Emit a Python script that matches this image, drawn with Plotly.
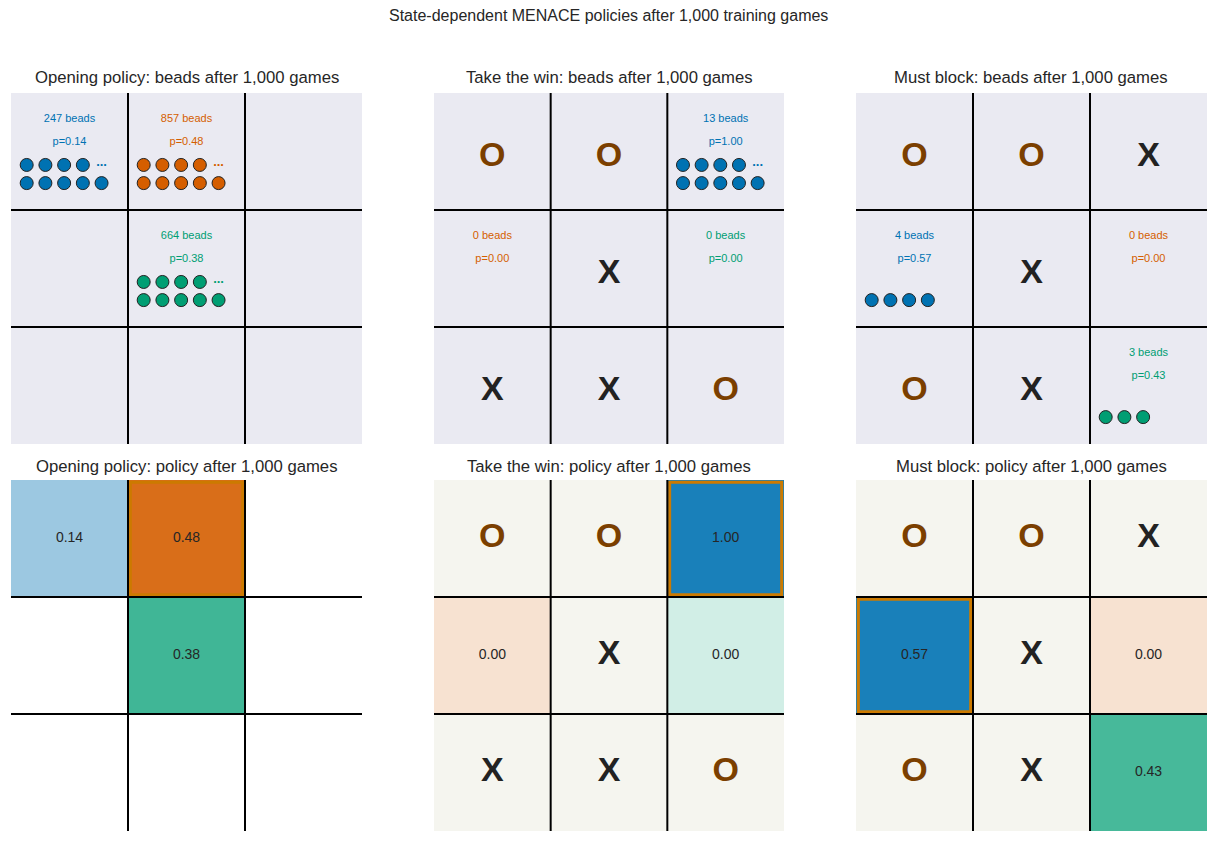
import plotly.graph_objects as go

FONT = "Liberation Sans, Arial, sans-serif"
OUT_HTML = "out.html"

SUPTITLE = "State-dependent MENACE policies after 1,000 training games"
STATE_NAMES = ["Opening policy", "Take the win", "Must block"]

# board contents, row by row ("" = empty square)
OPENING_BOARD = ["", "", "", "", "", "", "", "", ""]
WIN_BOARD = ["O", "O", "", "", "X", "", "X", "X", "O"]
BLOCK_BOARD = ["O", "O", "X", "", "X", "", "O", "X", ""]

# squares that hold a bead colour, bead counts and the move probabilities
OPENING_MOVES = [0, 1, 4]
OPENING_BEADS = [247, 857, 664]
OPENING_PROBS = [0.14, 0.48, 0.38]

WIN_MOVES = [2, 3, 5]
WIN_BEADS = [13, 0, 0]
WIN_PROBS = [1.00, 0.00, 0.00]

BLOCK_MOVES = [3, 5, 8]
BLOCK_BEADS = [4, 0, 3]
BLOCK_PROBS = [0.57, 0.00, 0.43]

MOVE_COLORS = ["#0072B2", "#D55E00", "#009E73"]
BEADS_BG = "#EAEAF2"
TAKEN_BG = "#F5F5EF"
HIGHLIGHT = "#CC7A00"
O_COLOR = "#7B3F00"
X_COLOR = "#222222"
TEXT = "#262626"

# the page body has an 8px margin, so the figure is laid out in page pixels minus 8
PAD = 8
W, H = 1217 - 2 * PAD, 841 - 2 * PAD


def px_x(p):
    return (p - PAD) / W


def px_y(p):
    return 1 - (p - PAD) / H


X_DOMAINS = [(px_x(11), px_x(362)), (px_x(434), px_x(784)), (px_x(856), px_x(1207))]
Y_DOMAINS = [(px_y(444), px_y(93)), (px_y(831), px_y(480))]

STATES = [
    (OPENING_BOARD, OPENING_MOVES, OPENING_BEADS, OPENING_PROBS),
    (WIN_BOARD, WIN_MOVES, WIN_BEADS, WIN_PROBS),
    (BLOCK_BOARD, BLOCK_MOVES, BLOCK_BEADS, BLOCK_PROBS),
]


def rgba(hex_color, alpha):
    h = hex_color.lstrip("#")
    r, g, b = int(h[0:2], 16), int(h[2:4], 16), int(h[4:6], 16)
    return f"rgba({r},{g},{b},{alpha:.3f})"


def grid_shapes(ax):
    xr, yr = f"x{ax}", f"y{ax}"
    shapes = []
    for k in (1, 2):
        shapes.append(dict(type="line", xref=xr, yref=yr, x0=k, x1=k, y0=0, y1=3,
                           line=dict(color="black", width=2), layer="below"))
        shapes.append(dict(type="line", xref=xr, yref=yr, x0=0, x1=3, y0=k, y1=k,
                           line=dict(color="black", width=2), layer="below"))
    return shapes


def piece_traces(board, ax, dy=0.0):
    traces = []
    for mark, color in (("X", X_COLOR), ("O", O_COLOR)):
        cells = [i for i, v in enumerate(board) if v == mark]
        if not cells:
            continue
        traces.append(go.Scatter(
            x=[i % 3 + 0.5 for i in cells], y=[i // 3 + 0.5 + dy for i in cells],
            mode="text", text=[f"<b>{mark}</b>"] * len(cells),
            textfont=dict(family=FONT, size=34, color=color),
            xaxis=f"x{ax}", yaxis=f"y{ax}", hoverinfo="skip", showlegend=False,
        ))
    return traces


fig = go.Figure()
shapes = []
annotations = []

for s, (board, moves, beads, probs) in enumerate(STATES):
    top, bot = s + 1, s + 4

    # ---- bead boxes (top row)
    shapes.append(dict(type="rect", xref=f"x{top}", yref=f"y{top}", x0=0, x1=3, y0=0, y1=3,
                       fillcolor=BEADS_BG, line=dict(width=0), layer="below"))
    shapes += grid_shapes(top)
    for t in piece_traces(board, top, dy=0.05):
        fig.add_trace(t)

    for m, (cell, n, p) in enumerate(zip(moves, beads, probs)):
        r, c = cell // 3, cell % 3
        col = MOVE_COLORS[m]
        fig.add_trace(go.Scatter(
            x=[c + 0.5, c + 0.5], y=[r + 0.225, r + 0.42], mode="text",
            text=[f"{n} beads", f"p={p:.2f}"],
            textfont=dict(family=FONT, size=11, color=col),
            xaxis=f"x{top}", yaxis=f"y{top}", hoverinfo="skip", showlegend=False,
        ))
        # lower row holds up to 5 beads, upper row the rest (4 + dots when crowded)
        lower = min(n, 5)
        upper = min(n - lower, 4)
        bx = [c + 0.134 + 0.16 * k for k in range(lower)] + \
             [c + 0.134 + 0.16 * k for k in range(upper)]
        by = [r + 0.77] * lower + [r + 0.615] * upper
        if bx:
            fig.add_trace(go.Scatter(
                x=bx, y=by, mode="markers",
                marker=dict(size=13, color=col, line=dict(color="#222222", width=1)),
                xaxis=f"x{top}", yaxis=f"y{top}", hoverinfo="skip", showlegend=False,
            ))
        if n > 9:
            fig.add_trace(go.Scatter(
                x=[c + 0.134 + 0.16 * 4], y=[r + 0.60], mode="text", text=["<b>...</b>"],
                textfont=dict(family=FONT, size=13, color=col),
                xaxis=f"x{top}", yaxis=f"y{top}", hoverinfo="skip", showlegend=False,
            ))

    # ---- policy boards (bottom row)
    for i, v in enumerate(board):
        if v:
            shapes.append(dict(type="rect", xref=f"x{bot}", yref=f"y{bot}",
                               x0=i % 3, x1=i % 3 + 1, y0=i // 3, y1=i // 3 + 1,
                               fillcolor=TAKEN_BG, line=dict(width=0), layer="below"))
    pmax = max(probs)
    for m, (cell, p) in enumerate(zip(moves, probs)):
        r, c = cell // 3, cell % 3
        alpha = 0.18 + 0.72 * (p / pmax if pmax > 0 else 0)
        shapes.append(dict(type="rect", xref=f"x{bot}", yref=f"y{bot}",
                           x0=c, x1=c + 1, y0=r, y1=r + 1,
                           fillcolor=rgba(MOVE_COLORS[m], alpha), line=dict(width=0), layer="below"))
    best = moves[probs.index(pmax)]
    br, bc = best // 3, best % 3
    shapes.append(dict(type="rect", xref=f"x{bot}", yref=f"y{bot}",
                       x0=bc + 0.02, x1=bc + 0.98, y0=br + 0.02, y1=br + 0.98,
                       fillcolor="rgba(0,0,0,0)", line=dict(color=HIGHLIGHT, width=3), layer="below"))
    shapes += grid_shapes(bot)
    for t in piece_traces(board, bot):
        fig.add_trace(t)
    fig.add_trace(go.Scatter(
        x=[cell % 3 + 0.5 for cell in moves], y=[cell // 3 + 0.5 for cell in moves],
        mode="text", text=[f"{p:.2f}" for p in probs],
        textfont=dict(family=FONT, size=14, color=TEXT),
        xaxis=f"x{bot}", yaxis=f"y{bot}", hoverinfo="skip", showlegend=False,
    ))

    # titles
    xmid = sum(X_DOMAINS[s]) / 2
    annotations.append(dict(text=f"{STATE_NAMES[s]}: beads after 1,000 games", x=xmid, y=px_y(78),
                            xref="paper", yref="paper", showarrow=False, xanchor="center",
                            yanchor="middle", font=dict(family=FONT, size=16.7, color=TEXT)))
    annotations.append(dict(text=f"{STATE_NAMES[s]}: policy after 1,000 games", x=xmid, y=px_y(466),
                            xref="paper", yref="paper", showarrow=False, xanchor="center",
                            yanchor="middle", font=dict(family=FONT, size=16.7, color=TEXT)))

annotations.append(dict(text=SUPTITLE, x=px_x(608.5), y=px_y(16), xref="paper", yref="paper",
                        showarrow=False, xanchor="center", yanchor="middle",
                        font=dict(family=FONT, size=16, color=TEXT)))

layout = dict(
    width=W, height=H,
    margin=dict(l=0, r=0, t=0, b=0),
    paper_bgcolor="white", plot_bgcolor="white",
    showlegend=False,
    shapes=shapes, annotations=annotations,
)
axis_style = dict(range=[0, 3], visible=False, showgrid=False, zeroline=False, fixedrange=True)
for k in range(6):
    n = k + 1
    xd = X_DOMAINS[k % 3]
    yd = Y_DOMAINS[k // 3]
    layout[f"xaxis{n}"] = dict(axis_style, domain=list(xd), anchor=f"y{n}")
    layout[f"yaxis{n}"] = dict(axis_style, domain=list(yd), anchor=f"x{n}", range=[3, 0])

fig.update_layout(**layout)
fig.write_html(OUT_HTML, config={"displayModeBar": False})
